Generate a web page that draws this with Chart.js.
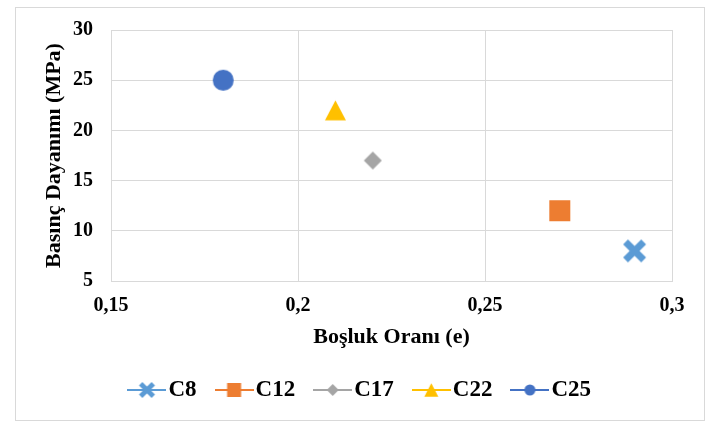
<!DOCTYPE html>
<html>
<head>
<meta charset="utf-8">
<script src="https://cdn.jsdelivr.net/npm/chart.js@4.4.1/dist/chart.umd.min.js"></script>
<style>
  html, body { margin: 0; padding: 0; background: #ffffff; }
  #wrap { width: 713px; height: 422px; }
</style>
</head>
<body>
<div id="wrap"><canvas id="chart" width="713" height="422"></canvas></div>
<script>
// Series: void ratio (e) vs. compressive strength (MPa)
const seriesNames = ['C8', 'C12', 'C17', 'C22', 'C25'];
const voidRatio = [0.29, 0.27, 0.22, 0.21, 0.18];
const strength = [8, 12, 17, 22, 25];
const seriesColors = ['#5B9BD5', '#ED7D31', '#A5A5A5', '#FFC000', '#4472C4'];
const markerShapes = ['cross', 'square', 'diamond', 'triangle', 'circle'];
const xTickLabels = ['0,15', '0,2', '0,25', '0,3'];
const yTickLabels = ['5', '10', '15', '20', '25', '30'];

const FONT_FAMILY = "'Liberation Serif', 'Times New Roman', serif";
const GRID = '#d9d9d9';

function drawShape(ctx, shape, cx, cy, size, color) {
  const h = size / 2;
  ctx.fillStyle = color;
  ctx.strokeStyle = color;
  ctx.beginPath();
  if (shape === 'circle') {
    ctx.arc(cx, cy, h, 0, Math.PI * 2);
    ctx.fill();
  } else if (shape === 'square') {
    ctx.fillRect(cx - h, cy - h, size, size);
  } else if (shape === 'diamond') {
    ctx.moveTo(cx, cy - h); ctx.lineTo(cx + h, cy); ctx.lineTo(cx, cy + h); ctx.lineTo(cx - h, cy);
    ctx.closePath(); ctx.fill();
  } else if (shape === 'triangle') {
    const th = size * 0.95;
    ctx.moveTo(cx, cy - th / 2); ctx.lineTo(cx + h, cy + th / 2); ctx.lineTo(cx - h, cy + th / 2);
    ctx.closePath(); ctx.fill();
  } else if (shape === 'cross') {
    const lw = size * 0.3;
    const s = h - lw * 0.3536;
    ctx.lineWidth = lw;
    ctx.lineCap = 'butt';
    ctx.moveTo(cx - s, cy - s); ctx.lineTo(cx + s, cy + s);
    ctx.moveTo(cx + s, cy - s); ctx.lineTo(cx - s, cy + s);
    ctx.stroke();
  }
}

const plotSizes = { cross: 23, square: 21, diamond: 18, triangle: 21, circle: 21 };
const legendSizes = { cross: 16, square: 14, diamond: 12, triangle: 14, circle: 11 };

function markerImage(shape, color) {
  const size = plotSizes[shape];
  const c = document.createElement('canvas');
  c.width = size + 4; c.height = size + 4;
  drawShape(c.getContext('2d'), shape, c.width / 2, c.height / 2, size, color);
  return c;
}

function legendImage(shape, color) {
  const c = document.createElement('canvas');
  c.width = 39; c.height = 20;
  const ctx = c.getContext('2d');
  ctx.strokeStyle = color;
  ctx.lineWidth = 2;
  ctx.beginPath();
  ctx.moveTo(0, 10); ctx.lineTo(39, 10);
  ctx.stroke();
  drawShape(ctx, shape, 19.5, 10, legendSizes[shape], color);
  return c;
}

const datasets = seriesNames.map((name, i) => ({
  label: name,
  data: [{ x: voidRatio[i], y: strength[i] }],
  pointStyle: markerImage(markerShapes[i], seriesColors[i]),
  backgroundColor: seriesColors[i],
  borderColor: seriesColors[i],
  pointRadius: 10,
  showLine: false
}));

const frame = {
  id: 'frame',
  beforeDraw(chart) {
    const ctx = chart.ctx;
    ctx.save();
    ctx.fillStyle = '#ffffff';
    ctx.fillRect(0, 0, chart.width, chart.height);
    ctx.strokeStyle = GRID;
    ctx.lineWidth = 1;
    ctx.strokeRect(15.5, 7.5, 689, 413);
    ctx.restore();
  }
};

new Chart(document.getElementById('chart'), {
  type: 'scatter',
  data: { datasets },
  plugins: [frame],
  options: {
    responsive: false,
    animation: false,
    layout: { padding: { left: 15, right: 0, top: 29, bottom: 10.5 } },
    plugins: {
      tooltip: { enabled: false },
      legend: {
        position: 'bottom',
        labels: {
          usePointStyle: true,
          pointStyleWidth: 20,
          padding: 27.5,
          color: '#000000',
          font: { family: FONT_FAMILY, size: 23, weight: 'bold' },
          generateLabels: (chart) => seriesNames.map((name, i) => ({
            text: name,
            fillStyle: seriesColors[i],
            strokeStyle: seriesColors[i],
            lineWidth: 0,
            pointStyle: legendImage(markerShapes[i], seriesColors[i]),
            hidden: false,
            datasetIndex: i
          }))
        }
      }
    },
    scales: {
      x: {
        type: 'linear',
        min: 0.15,
        max: 0.3,
        ticks: {
          stepSize: 0.05,
          padding: 13,
          color: '#000000',
          font: { family: FONT_FAMILY, size: 20, weight: 'bold' },
          callback: (v, i) => xTickLabels[i] !== undefined ? xTickLabels[i] : String(v).replace('.', ',')
        },
        grid: { color: GRID, lineWidth: 1, drawTicks: false },
        border: { color: GRID, width: 1 },
        title: {
          display: true,
          text: 'Boşluk Oranı (e)',
          color: '#000000',
          font: { family: FONT_FAMILY, size: 22, weight: 'bold' },
          padding: { top: 0, bottom: 0 }
        },
        afterFit(scale) { scale.height = 70; }
      },
      y: {
        type: 'linear',
        min: 5,
        max: 30,
        ticks: {
          stepSize: 5,
          padding: 18,
          color: '#000000',
          font: { family: FONT_FAMILY, size: 20, weight: 'bold' },
          callback: (v, i) => yTickLabels[i] !== undefined ? yTickLabels[i] : String(v)
        },
        grid: { color: GRID, lineWidth: 1, drawTicks: false },
        border: { color: GRID, width: 1 },
        title: {
          display: true,
          text: 'Basınç Dayanımı (MPa)',
          color: '#000000',
          font: { family: FONT_FAMILY, size: 22, weight: 'bold' },
          padding: { top: 26, bottom: 0 }
        },
        afterFit(scale) { scale.width = 96; }
      },
      y2: {
        position: 'right',
        display: true,
        grid: { display: false },
        border: { display: false },
        ticks: { display: false },
        afterFit(scale) { scale.width = 41; }
      }
    }
  }
});
</script>
</body>
</html>
